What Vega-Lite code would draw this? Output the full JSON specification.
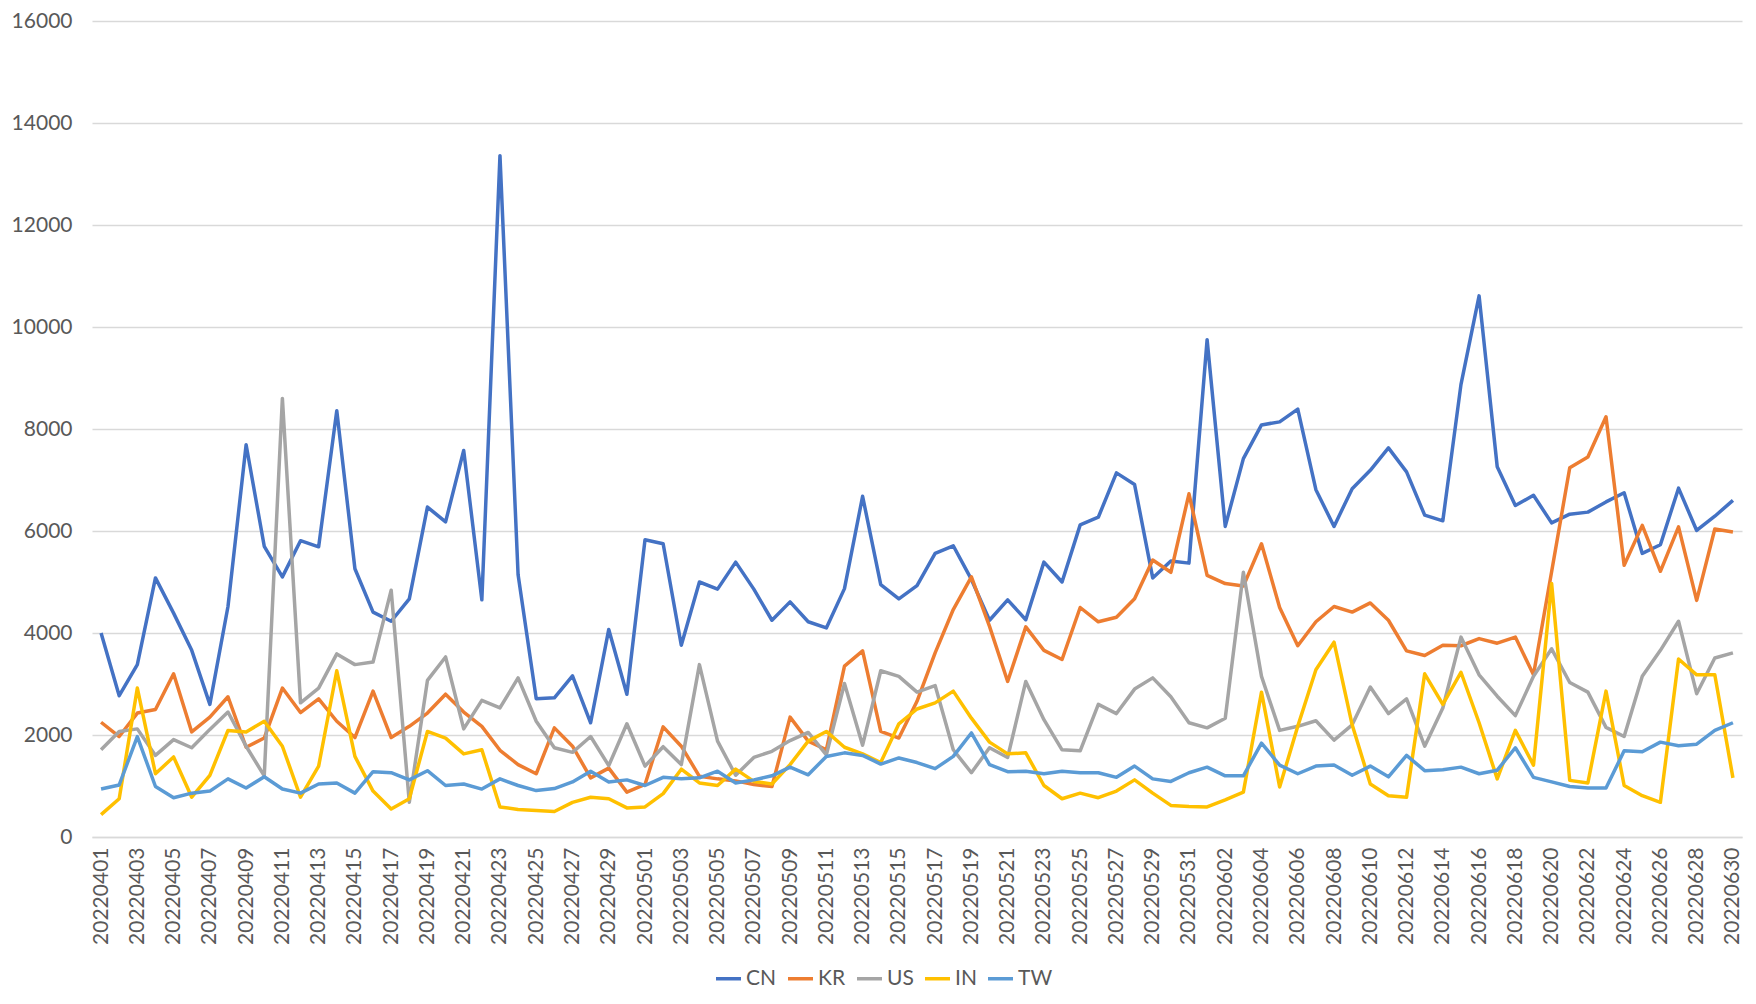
{
  "$schema": "https://vega.github.io/schema/vega-lite/v6.json",
  "width": 1650,
  "height": 816,
  "autosize": "none",
  "padding": {"left": 92, "top": 21, "right": 14, "bottom": 167},
  "background": "white",
  "config": {
    "view": {"stroke": null},
    "font": "Lato",
    "axis": {"labelFont": "Lato", "labelFontSize": 21, "labelColor": "#595959"}
  },
  "data": {
    "values": [
      {"date": "20220401", "CN": 4000, "KR": 2250, "US": 1710, "IN": 440, "TW": 940},
      {"date": "20220402", "CN": 2770, "KR": 1970, "US": 2070, "IN": 750, "TW": 1020},
      {"date": "20220403", "CN": 3380, "KR": 2430, "US": 2120, "IN": 2920, "TW": 1970},
      {"date": "20220404", "CN": 5080, "KR": 2500, "US": 1600, "IN": 1240, "TW": 990},
      {"date": "20220405", "CN": 4390, "KR": 3200, "US": 1910, "IN": 1570, "TW": 770},
      {"date": "20220406", "CN": 3660, "KR": 2060, "US": 1750, "IN": 780, "TW": 860},
      {"date": "20220407", "CN": 2600, "KR": 2350, "US": 2110, "IN": 1210, "TW": 900},
      {"date": "20220408", "CN": 4520, "KR": 2750, "US": 2450, "IN": 2090, "TW": 1140},
      {"date": "20220409", "CN": 7690, "KR": 1760, "US": 1780, "IN": 2060, "TW": 960},
      {"date": "20220410", "CN": 5700, "KR": 1940, "US": 1200, "IN": 2270, "TW": 1180},
      {"date": "20220411", "CN": 5100, "KR": 2920, "US": 8600, "IN": 1780, "TW": 940},
      {"date": "20220412", "CN": 5810, "KR": 2440, "US": 2630, "IN": 780, "TW": 860},
      {"date": "20220413", "CN": 5690, "KR": 2710, "US": 2920, "IN": 1390, "TW": 1040},
      {"date": "20220414", "CN": 8360, "KR": 2270, "US": 3590, "IN": 3260, "TW": 1060},
      {"date": "20220415", "CN": 5260, "KR": 1950, "US": 3380, "IN": 1580, "TW": 860},
      {"date": "20220416", "CN": 4410, "KR": 2860, "US": 3430, "IN": 900, "TW": 1280},
      {"date": "20220417", "CN": 4230, "KR": 1950, "US": 4840, "IN": 550, "TW": 1260},
      {"date": "20220418", "CN": 4670, "KR": 2170, "US": 680, "IN": 750, "TW": 1120},
      {"date": "20220419", "CN": 6470, "KR": 2430, "US": 3070, "IN": 2070, "TW": 1300},
      {"date": "20220420", "CN": 6180, "KR": 2800, "US": 3530, "IN": 1940, "TW": 1010},
      {"date": "20220421", "CN": 7580, "KR": 2450, "US": 2120, "IN": 1630, "TW": 1040},
      {"date": "20220422", "CN": 4650, "KR": 2170, "US": 2680, "IN": 1710, "TW": 940},
      {"date": "20220423", "CN": 13360, "KR": 1700, "US": 2530, "IN": 590, "TW": 1140},
      {"date": "20220424", "CN": 5140, "KR": 1420, "US": 3120, "IN": 540, "TW": 1010},
      {"date": "20220425", "CN": 2710, "KR": 1240, "US": 2270, "IN": 520, "TW": 910},
      {"date": "20220426", "CN": 2730, "KR": 2140, "US": 1750, "IN": 500, "TW": 950},
      {"date": "20220427", "CN": 3160, "KR": 1780, "US": 1660, "IN": 680, "TW": 1080},
      {"date": "20220428", "CN": 2240, "KR": 1160, "US": 1970, "IN": 780, "TW": 1290},
      {"date": "20220429", "CN": 4070, "KR": 1350, "US": 1400, "IN": 750, "TW": 1080},
      {"date": "20220430", "CN": 2800, "KR": 880, "US": 2220, "IN": 570, "TW": 1120},
      {"date": "20220501", "CN": 5830, "KR": 1030, "US": 1390, "IN": 590, "TW": 1010},
      {"date": "20220502", "CN": 5750, "KR": 2160, "US": 1770, "IN": 850, "TW": 1170},
      {"date": "20220503", "CN": 3760, "KR": 1780, "US": 1420, "IN": 1330, "TW": 1140},
      {"date": "20220504", "CN": 5000, "KR": 1190, "US": 3380, "IN": 1060, "TW": 1160},
      {"date": "20220505", "CN": 4860, "KR": 1140, "US": 1880, "IN": 1010, "TW": 1290},
      {"date": "20220506", "CN": 5390, "KR": 1100, "US": 1210, "IN": 1330, "TW": 1060},
      {"date": "20220507", "CN": 4860, "KR": 1030, "US": 1560, "IN": 1090, "TW": 1120},
      {"date": "20220508", "CN": 4250, "KR": 990, "US": 1680, "IN": 1040, "TW": 1200},
      {"date": "20220509", "CN": 4610, "KR": 2350, "US": 1890, "IN": 1420, "TW": 1370},
      {"date": "20220510", "CN": 4220, "KR": 1880, "US": 2050, "IN": 1880, "TW": 1220},
      {"date": "20220511", "CN": 4100, "KR": 1710, "US": 1610, "IN": 2070, "TW": 1580},
      {"date": "20220512", "CN": 4870, "KR": 3350, "US": 3010, "IN": 1760, "TW": 1650},
      {"date": "20220513", "CN": 6680, "KR": 3650, "US": 1800, "IN": 1630, "TW": 1600},
      {"date": "20220514", "CN": 4950, "KR": 2070, "US": 3260, "IN": 1460, "TW": 1430},
      {"date": "20220515", "CN": 4670, "KR": 1940, "US": 3150, "IN": 2220, "TW": 1550},
      {"date": "20220516", "CN": 4930, "KR": 2660, "US": 2840, "IN": 2510, "TW": 1460},
      {"date": "20220517", "CN": 5560, "KR": 3610, "US": 2970, "IN": 2630, "TW": 1340},
      {"date": "20220518", "CN": 5710, "KR": 4460, "US": 1710, "IN": 2860, "TW": 1580},
      {"date": "20220519", "CN": 5050, "KR": 5100, "US": 1260, "IN": 2330, "TW": 2040},
      {"date": "20220520", "CN": 4250, "KR": 4130, "US": 1750, "IN": 1860, "TW": 1420},
      {"date": "20220521", "CN": 4650, "KR": 3050, "US": 1560, "IN": 1630, "TW": 1280},
      {"date": "20220522", "CN": 4260, "KR": 4120, "US": 3050, "IN": 1650, "TW": 1290},
      {"date": "20220523", "CN": 5390, "KR": 3660, "US": 2300, "IN": 1010, "TW": 1240},
      {"date": "20220524", "CN": 5000, "KR": 3480, "US": 1710, "IN": 750, "TW": 1290},
      {"date": "20220525", "CN": 6120, "KR": 4500, "US": 1690, "IN": 860, "TW": 1260},
      {"date": "20220526", "CN": 6270, "KR": 4220, "US": 2600, "IN": 770, "TW": 1260},
      {"date": "20220527", "CN": 7140, "KR": 4310, "US": 2420, "IN": 900, "TW": 1170},
      {"date": "20220528", "CN": 6910, "KR": 4670, "US": 2900, "IN": 1120, "TW": 1390},
      {"date": "20220529", "CN": 5080, "KR": 5430, "US": 3120, "IN": 860, "TW": 1140},
      {"date": "20220530", "CN": 5410, "KR": 5190, "US": 2750, "IN": 620, "TW": 1090},
      {"date": "20220531", "CN": 5370, "KR": 6730, "US": 2240, "IN": 600, "TW": 1260},
      {"date": "20220601", "CN": 9750, "KR": 5130, "US": 2140, "IN": 590, "TW": 1370},
      {"date": "20220602", "CN": 6090, "KR": 4970, "US": 2330, "IN": 730, "TW": 1200},
      {"date": "20220603", "CN": 7420, "KR": 4920, "US": 5190, "IN": 880, "TW": 1200},
      {"date": "20220604", "CN": 8080, "KR": 5750, "US": 3150, "IN": 2840, "TW": 1840},
      {"date": "20220605", "CN": 8140, "KR": 4500, "US": 2090, "IN": 980, "TW": 1410},
      {"date": "20220606", "CN": 8390, "KR": 3750, "US": 2170, "IN": 2170, "TW": 1240},
      {"date": "20220607", "CN": 6810, "KR": 4220, "US": 2280, "IN": 3280, "TW": 1390},
      {"date": "20220608", "CN": 6090, "KR": 4520, "US": 1900, "IN": 3820, "TW": 1410},
      {"date": "20220609", "CN": 6830, "KR": 4410, "US": 2200, "IN": 2200, "TW": 1210},
      {"date": "20220610", "CN": 7190, "KR": 4590, "US": 2940, "IN": 1040, "TW": 1390},
      {"date": "20220611", "CN": 7630, "KR": 4250, "US": 2420, "IN": 810, "TW": 1180},
      {"date": "20220612", "CN": 7160, "KR": 3650, "US": 2710, "IN": 780, "TW": 1600},
      {"date": "20220613", "CN": 6310, "KR": 3560, "US": 1780, "IN": 3200, "TW": 1300},
      {"date": "20220614", "CN": 6200, "KR": 3760, "US": 2530, "IN": 2600, "TW": 1320},
      {"date": "20220615", "CN": 8870, "KR": 3750, "US": 3920, "IN": 3230, "TW": 1370},
      {"date": "20220616", "CN": 10610, "KR": 3890, "US": 3180, "IN": 2240, "TW": 1240},
      {"date": "20220617", "CN": 7260, "KR": 3800, "US": 2760, "IN": 1140, "TW": 1310},
      {"date": "20220618", "CN": 6500, "KR": 3920, "US": 2380, "IN": 2090, "TW": 1750},
      {"date": "20220619", "CN": 6700, "KR": 3180, "US": 3150, "IN": 1410, "TW": 1170},
      {"date": "20220620", "CN": 6160, "KR": 5200, "US": 3690, "IN": 4970, "TW": 1080},
      {"date": "20220621", "CN": 6330, "KR": 7240, "US": 3030, "IN": 1110, "TW": 990},
      {"date": "20220622", "CN": 6370, "KR": 7450, "US": 2840, "IN": 1060, "TW": 960},
      {"date": "20220623", "CN": 6570, "KR": 8240, "US": 2150, "IN": 2860, "TW": 960},
      {"date": "20220624", "CN": 6750, "KR": 5330, "US": 1970, "IN": 1010, "TW": 1690},
      {"date": "20220625", "CN": 5560, "KR": 6110, "US": 3150, "IN": 810, "TW": 1670},
      {"date": "20220626", "CN": 5730, "KR": 5210, "US": 3660, "IN": 680, "TW": 1860},
      {"date": "20220627", "CN": 6840, "KR": 6080, "US": 4230, "IN": 3490, "TW": 1790},
      {"date": "20220628", "CN": 6010, "KR": 4640, "US": 2810, "IN": 3180, "TW": 1820},
      {"date": "20220629", "CN": 6290, "KR": 6040, "US": 3510, "IN": 3180, "TW": 2090},
      {"date": "20220630", "CN": 6600, "KR": 5980, "US": 3610, "IN": 1160, "TW": 2240}
    ]
  },
  "transform": [
    {"fold": ["CN", "KR", "US", "IN", "TW"], "as": ["country", "value"]}
  ],
  "mark": {"type": "line", "strokeWidth": 3.5, "strokeJoin": "round"},
  "encoding": {
    "x": {
      "field": "date",
      "type": "ordinal",
      "sort": null,
      "scale": {"paddingOuter": 0.5},
      "axis": {
        "title": null,
        "labelAngle": -90,
        "labelPadding": 10,
        "ticks": false,
        "domainColor": "#D9D9D9",
        "domainWidth": 1.5,
        "labelOverlap": false,
        "values": ["20220401", "20220403", "20220405", "20220407", "20220409", "20220411", "20220413", "20220415", "20220417", "20220419", "20220421", "20220423", "20220425", "20220427", "20220429", "20220501", "20220503", "20220505", "20220507", "20220509", "20220511", "20220513", "20220515", "20220517", "20220519", "20220521", "20220523", "20220525", "20220527", "20220529", "20220531", "20220602", "20220604", "20220606", "20220608", "20220610", "20220612", "20220614", "20220616", "20220618", "20220620", "20220622", "20220624", "20220626", "20220628", "20220630"]
      }
    },
    "y": {
      "field": "value",
      "type": "quantitative",
      "scale": {"domain": [0, 16000], "nice": false},
      "axis": {
        "title": null,
        "values": [0, 2000, 4000, 6000, 8000, 10000, 12000, 14000, 16000],
        "format": "d",
        "domain": false,
        "ticks": false,
        "labelPadding": 20,
        "gridColor": "#D9D9D9",
        "gridWidth": 1.5
      }
    },
    "color": {
      "field": "country",
      "type": "nominal",
      "sort": ["CN", "KR", "US", "IN", "TW"],
      "scale": {
        "domain": ["CN", "KR", "US", "IN", "TW"],
        "range": ["#4472C4", "#ED7D31", "#A5A5A5", "#FFC000", "#5B9BD5"]
      },
      "legend": {
        "title": null,
        "orient": "none",
        "direction": "horizontal",
        "legendX": 622,
        "legendY": 943,
        "symbolType": "stroke",
        "symbolSize": 625,
        "symbolStrokeWidth": 3.5,
        "labelFont": "Lato",
        "labelFontSize": 21,
        "labelColor": "#595959",
        "labelOffset": 3,
        "columnPadding": 4
      }
    }
  }
}
